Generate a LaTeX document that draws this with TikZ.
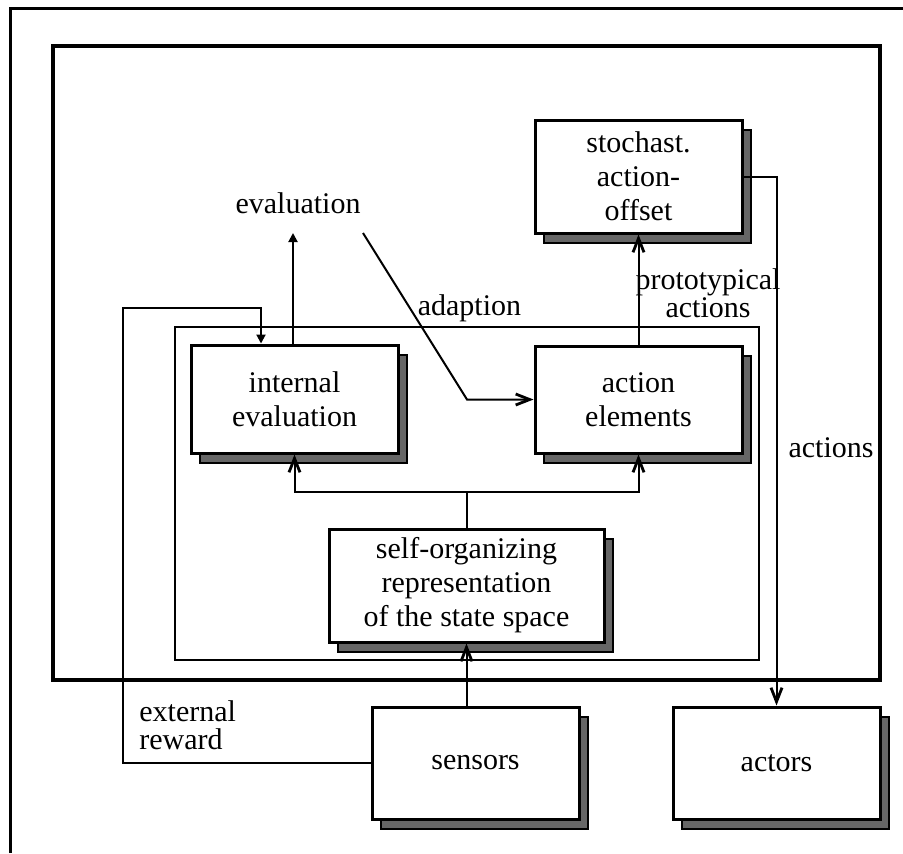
\documentclass[tikz,border=0pt]{standalone}
\usepackage{fontspec}
\setmainfont{Liberation Serif}
\usetikzlibrary{arrows.meta,shadows}
\definecolor{shgray}{HTML}{666666}
\begin{document}
\begin{tikzpicture}[x=0.5pt,y=-0.5pt,
  blk/.style={draw, line width=1.5pt, fill=white, align=center, inner sep=0pt,
    minimum width=103.5pt, minimum height=55pt,
    font=\fontsize{15}{17}\selectfont,
    drop shadow={shadow xshift=4.5pt, shadow yshift=-5pt, fill=shgray,
      draw=black, line width=0.8pt, opacity=1}},
  lbl/.style={font=\fontsize{15}{14}\selectfont, inner sep=0pt},
  conn/.style={line width=1pt},
  barb/.style={conn, -{Straight Barb[length=7pt,width=5.5pt,line width=1.4pt]}},
  fillarrow/.style={conn, -{Triangle[length=4.5pt,width=4.5pt]}},
]
\useasboundingbox (0,0) rectangle (903,853);

% page frame
\draw[line width=1.5pt] (10,853) -- (10,8) -- (903,8);
% system boundary and controller boundary
\draw[line width=1.75pt] (53,46) rectangle (880,680);
\draw[line width=1pt] (175,327) rectangle (759,660);

% blocks
\node[blk, minimum height=56.5pt] (sa) at (638.5,176.5) {stochast.\\action-\\offset};
\node[blk, minimum height=54pt] (ie) at (294.5,399) {internal\\evaluation};
\node[blk, minimum height=53.5pt] (ae) at (638.5,399.5) {action\\elements};
\node[blk, minimum width=137.5pt, minimum height=56.5pt] (so) at (466.5,585.5)
  {self-organizing\\representation\\of the state space};
\node[blk, minimum height=56pt] (se) at (475.5,763) {sensors};
\node[blk, minimum height=56pt] (ac) at (776.5,763) {actors};

% free labels
\node[lbl] (evl) at (298,203) {evaluation};
\node[lbl, anchor=base] (adl) at (469.5,315) {adaption};
\node[lbl, align=center] (ptl) at (708,293) {prototypical\\actions};
\node[lbl] (acl) at (831,448) {actions};
\node[lbl, align=left, anchor=west] (erl) at (139,725) {external\\reward};

% connector points
\coordinate (evtip) at (293,233);
\coordinate (adstart) at (363,233);
\coordinate (adbend) at (467,399.5);
\coordinate (split) at (466.5,492);
\coordinate (fbl) at (123,308);
\coordinate (fbr) at (261,308);

% connectors
\draw[fillarrow] (ie.north -| evtip) -- (evtip);
\draw[barb] (adstart) -- (adbend) -- (ae.west);
\draw[barb] (so.north) -- (split) -| (ie.south);
\draw[barb] (split) -| (ae.south);
\draw[barb] (ae.north) -- (sa.south);
\draw[barb] (sa.east) -| (ac.north);
\draw[barb] (se.north -| so.south) -- (so.south);
\draw[fillarrow] (se.west) -| (fbl) -- (fbr) -- (fbr |- ie.north);
\end{tikzpicture}
\end{document}
